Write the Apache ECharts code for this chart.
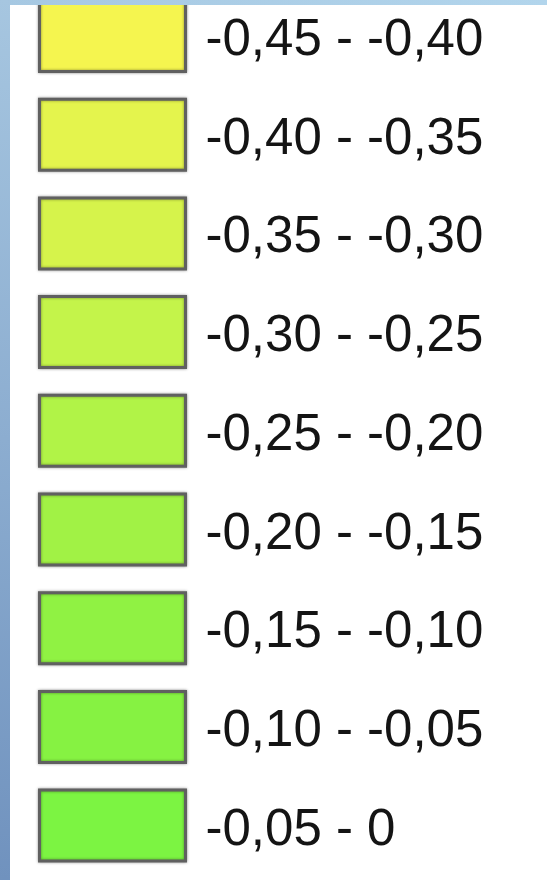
<!DOCTYPE html>
<html>
<head>
<meta charset="utf-8">
<script src="https://cdn.jsdelivr.net/npm/echarts@6/dist/echarts.min.js"></script>
<style>
  html, body { margin: 0; padding: 0; background: #fff; }
  #main { width: 547px; height: 880px; }
</style>
</head>
<body>
<div id="main"></div>
<script>
// class bounds, top of the legend first
const lowerBounds = [-0.45, -0.40, -0.35, -0.30, -0.25, -0.20, -0.15, -0.10, -0.05];
const upperBounds = [-0.40, -0.35, -0.30, -0.25, -0.20, -0.15, -0.10, -0.05, 0];
const classColors = [
  '#f5f54f', '#e4f44d', '#d6f34b', '#c4f44a', '#b1f347',
  '#a1f245', '#90f243', '#86f242', '#7cf442',
];

const myChart = echarts.init(document.getElementById('main'));

// -0.05 -> "-0,05", 0 -> "0"
const fmt = (v) => (v === 0 ? '0' : v.toFixed(2).replace('.', ','));

const labels = lowerBounds.map((lo, i) => fmt(lo) + ' - ' + fmt(upperBounds[i]));

const series = labels.map((name, i) => ({
  name: name,
  type: 'bar',
  data: [],
  itemStyle: {
    color: classColors[i],
    borderColor: '#606060',
    borderWidth: 3,
  },
}));

const option = {
  animation: false,
  backgroundColor: '#fff',
  xAxis: { show: false, type: 'value' },
  yAxis: { show: false, type: 'category', data: [] },
  legend: {
    orient: 'vertical',
    left: 38,
    top: -1,
    height: 900,
    padding: 0,
    icon: 'rect',
    itemWidth: 146,
    itemHeight: 71,
    itemGap: 24.7,
    selectedMode: false,
    itemStyle: {
      borderWidth: 3,
      borderColor: '#606060',
      shadowBlur: 3,
      shadowColor: 'rgba(0,0,0,0.4)',
    },
    // nudge the label a few px below the box centre, as in the original
    formatter: (name) => '{t|' + name + '}',
    textStyle: {
      fontFamily: 'Liberation Sans, Arial, sans-serif',
      fontSize: 51,
      color: '#141414',
      rich: {
        t: {
          fontFamily: 'Liberation Sans, Arial, sans-serif',
          fontSize: 51,
          lineHeight: 56,
          color: '#141414',
          padding: [10, 0, 0, 15],
        },
      },
    },
    data: labels,
  },
  graphic: [
    {
      type: 'rect',
      z: 100,
      shape: { x: 0, y: 0, width: 547, height: 5 },
      style: {
        fill: new echarts.graphic.LinearGradient(0, 0, 1, 0, [
          { offset: 0, color: '#a6c8e2' },
          { offset: 1, color: '#b2d5ec' },
        ]),
      },
    },
    {
      type: 'rect',
      z: 100,
      shape: { x: 0, y: 0, width: 10, height: 880 },
      style: {
        fill: new echarts.graphic.LinearGradient(0, 0, 0, 1, [
          { offset: 0, color: '#a6c6e0' },
          { offset: 0.5, color: '#8cadd0' },
          { offset: 1, color: '#7092be' },
        ]),
      },
    },
  ],
  series: series,
};

myChart.setOption(option);
</script>
</body>
</html>
